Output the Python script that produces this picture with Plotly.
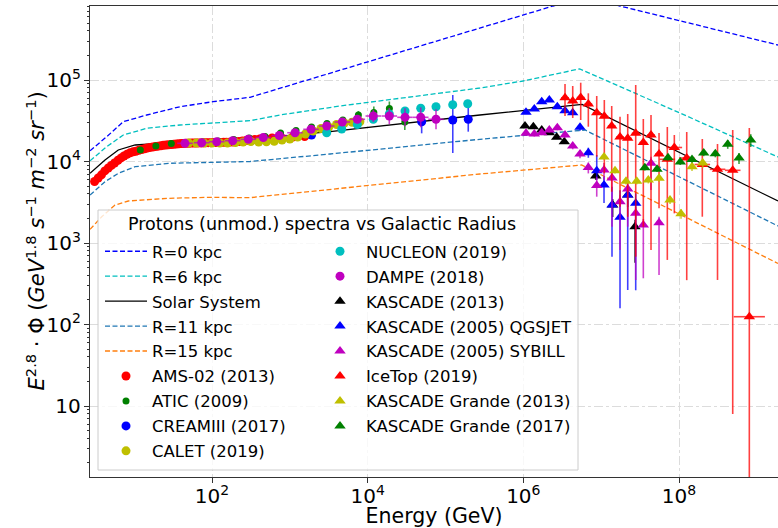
import numpy as np
import plotly.graph_objects as go

# ---------------- model curves (E in GeV, E^2.8 * flux) ----------------
r0_E = [2.71, 4.44, 7.25, 14.5, 38.8, 103, 308, 748, 2004, 4413, 2.41e6, 6.39e6, 1.75e7, 1.87e9]
r0_F = [13570, 20150, 30790, 37210, 47030, 54160, 61340, 79110, 104900, 130100, 809000, 1.043e6, 809000, 268800]

r6_E = [2.71, 4.44, 7.25, 14.5, 38.8, 103, 308, 748, 2004, 4413, 2.77e5, 9.9e5, 5.3e6, 1.03e8, 1.87e9]
r6_F = [10230, 15190, 21150, 25550, 28050, 29420, 31670, 37210, 42840, 47970, 79770, 97200, 137000, 39380, 11360]

sol_E = [2.71, 4.22, 6.25, 10.3, 16.8, 103, 308, 3283, 2.77e5, 5.68e6, 1.87e9]
sol_F = [7165, 10430, 13840, 15940, 16400, 17110, 18890, 23210, 37210, 50330, 3276]

r11_E = [2.71, 4.22, 6.25, 10.3, 27.5, 103, 308, 3283, 2.77e5, 6.2e6, 1.87e9]
r11_F = [3882, 5651, 7165, 8636, 9504, 9721, 10000, 12360, 18730, 24350, 1617]

r15_E = [2.71, 3.83, 5.67, 8.41, 27.5, 89.6, 308, 3283, 2.77e5, 5.6e6, 8.19e8, 1.87e9]
r15_F = [1470, 2102, 2927, 3276, 3535, 3636, 3600, 4559, 7025, 9060, 820.5, 560.6]

# ---------------- data sets ----------------
ams_E = [3.1, 3.45, 3.8, 4.2, 4.65, 5.1, 5.6, 6.2, 6.8, 7.4, 8.1, 8.9, 9.7, 10.5, 11.5, 12.5,
         13.6, 14.7, 16, 17.3, 18.7, 20.3, 22, 23.7, 25.7, 27.7, 30, 32.3, 34.8, 37.5, 40.4,
         43.5, 46.8, 50.3, 54.1, 58.2, 62.5, 67.2, 72.3, 77.7, 83.5, 89.7, 96.5, 104, 112, 120,
         130, 141, 153, 167, 183, 201, 222, 246, 275, 310, 354, 410, 483, 592, 770, 1090, 1550]
ams_F = [5680, 6280, 6860, 7660, 8330, 8960, 9600, 10370, 11060, 11690, 12260, 12800, 13140,
         13360, 13740, 14020, 14300, 14620, 14890, 15070, 15240, 15420, 15610, 15780, 15940,
         16040, 16180, 16300, 16400, 16500, 16580, 16680, 16720, 16770, 16820, 16870, 16870,
         16920, 16920, 16970, 16970, 17020, 17020, 17070, 17070, 17120, 17120, 17170, 17210,
         17260, 17350, 17450, 17620, 17850, 18110, 18360, 18620, 18880, 19160, 19430, 19710,
         19980, 20270]

atic_E = [12, 19, 30, 48, 76, 120, 190, 300, 480, 760, 1200, 1900, 3000, 4800, 7600, 12000, 19000, 30000]
atic_F = [13840, 15500, 16630, 17110, 17350, 17850, 18620, 19430, 20270, 22370, 24010, 26500,
          29260, 32300, 37210, 39930, 44710, 30530]
atic_ep = [300, 300, 300, 300, 300, 400, 400, 500, 600, 700, 800, 1000, 1300, 1800, 4470, 7390, 9790, 6690]
atic_em = [300, 300, 300, 300, 300, 400, 400, 500, 600, 700, 800, 1000, 1300, 1700, 3980, 6230, 8050, 6170]

cream_E = [1900, 49400, 124000, 196000]
cream_F = [21150, 30790, 32300, 32950]
cream_ep = [800, 6400, 33100, 15980]
cream_em = [800, 8620, 19580, 9720]

calet_E = [50, 63, 79, 100, 126, 158, 200, 251, 316, 398, 501, 631, 794, 1000, 1259, 1585,
           1995, 2512, 3162, 3981, 5012, 6310, 7943]
calet_F = [16870, 16870, 16870, 16870, 16870, 16870, 17110, 17350, 17600, 17350, 17500, 17750,
           18360, 18890, 19980, 21750, 23670, 25410, 26500, 28440, 29680, 30270, 30790]

nucleon_E = [2977, 4640, 7362, 11820, 18970, 30180, 48040, 75520, 123800, 192900]
nucleon_F = [22560, 25050, 28440, 32950, 38250, 41650, 44960, 47030, 49770, 51200]
nucleon_err = [900, 1100, 1300, 1600, 2000, 2400, 2900, 3300, 3800, 4300]

dampe_E = [45, 73.7, 115, 184.5, 292.7, 456, 732, 1165, 1871, 2977, 4723, 7362, 11820, 18970,
           30180, 48040, 75520]
dampe_F = [16720, 17010, 17500, 18000, 18730, 19700, 20840, 22560, 24840, 27270, 30530, 32950,
           36160, 36160, 34850, 34850, 32950]
dampe_ep = [300, 300, 300, 300, 400, 400, 500, 600, 700, 900, 1500, 3950, 6690, 9190, 10100, 11360, 10740]
dampe_em = [300, 300, 300, 300, 400, 400, 500, 600, 700, 900, 1400, 3530, 5650, 7300, 7840, 8570, 8100]
dampe_half_dex = 0.1

k13_E = [1.051e6, 1.344e6, 1.723e6, 2.157e6, 2.685e6, 3.362e6, 8.51e6, 1.407e7, 2.194e7, 2.722e7]
k13_F = [27270, 26730, 24350, 22560, 19820, 17500, 6640, 2927, 3882, 1585]
k13_ep = [1000, 1000, 1000, 1000, 900, 900, 800, 541, 590, 347]
k13_em = [1000, 1000, 1000, 1000, 900, 900, 700, 843, 1120, 1013]

kq_E = [1.082e6, 1.384e6, 1.723e6, 2.157e6, 2.733e6, 3.432e6, 4.311e6, 5.35e6, 6.84e6, 8.77e6,
        1.088e7, 1.378e7, 1.747e7, 2.194e7, 2.779e7]
kq_F = [40160, 44090, 54160, 56830, 47030, 42010, 39710, 26280, 12820, 7713, 5149, 2927, 2067, 3882, 3070]
kq_ep = [1500, 1600, 2000, 2200, 2000, 2000, 2000, 2500, 1950, 4304, 1360, 1981, 2367, 590, 1004]
kq_em = [1500, 1600, 2000, 2200, 2000, 2000, 2000, 2500, 1700, 1781, 2054, 2248, 1909, 3617, 2807]

ks_E = [1.082e6, 1.384e6, 1.723e6, 2.157e6, 2.733e6, 3.432e6, 4.311e6, 5.35e6, 6.84e6, 8.77e6,
        1.088e7, 1.378e7, 1.747e7, 2.194e7, 2.779e7, 3.48e7, 4.37e7, 5.54e7]
ks_F = [22180, 21750, 22560, 24350, 25980, 21150, 15500, 12360, 8443, 5077, 7866, 6273, 3212,
        4598, 2314, 1663, 9504, 1774]
ks_ep = [1500, 1500, 1500, 1600, 1800, 1600, 1400, 1400, 1300, 1432, 1723, 1593, 668, 851, 451, 308, 1948, 328]
ks_em = [1500, 1500, 1500, 1600, 1800, 1600, 1400, 1400, 1300, 1376, 1935, 4688, 2392, 3013, 1962, 1294, 5035, 1370]

ice_E = [3.432e6, 4.311e6, 5.46e6, 6.84e6, 8.77e6, 1.098e7, 1.366e7, 1.747e7, 2.194e7, 2.779e7,
         3.48e7, 4.37e7, 5.54e7, 7.08e7, 8.71e7, 1.257e8, 1.993e8, 3.125e8, 4.9e8, 8.01e8]
ice_F = [60480, 55240, 61000, 50760, 39710, 35850, 27270, 19980, 19260, 22180, 17110, 21150,
         12360, 10640, 14850, 11040, 9188, 8024, 7798, 124.6]
ice_ep = [28830, 29160, 31660, 17920, 23930, 20980, 20700, 15470, 18990, 64660, 16110, 16060,
          10010, 15860, 6300, 11970, 9702, 8376, 16550, 25640]
ice_em = [24320, 21060, 28700, 24030, 28250, 28690, 23010, 17190, 17160, 21500, 15530, 20330,
          9694, 10020, 12540, 10690, 7086, 7672, 7790, 124.5]
ice_half_dex = [0.05, 0.05, 0.05, 0.05, 0.05, 0.05, 0.05, 0.05, 0.05, 0.05, 0.05, 0.05, 0.05,
                0.1, 0.1, 0.1, 0.1, 0.1, 0.1, 0.2]

kg13_E = [1.088e7, 1.507e7, 2.086e7, 2.863e7, 4.035e7, 5.54e7, 7.67e7, 1.062e8, 1.47e8, 2.017e8]
kg13_F = [11360, 7713, 5733, 5733, 5929, 6221, 3370, 2288, 8636, 9585]
kg13_err = [800, 600, 500, 500, 550, 600, 350, 300, 1000, 1200]

kg17_E = [3.64e7, 5.22e7, 7.23e7, 1.04e8, 1.47e8, 2.078e8, 2.928e8, 4.227e8, 5.905e8, 8.35e8]
kg17_F = [8371, 8024, 11100, 9860, 10580, 12720, 12460, 16310, 11040, 18360]
kg17_err = [600, 600, 800, 800, 900, 1100, 1200, 2000, 1700, 3300]

FONT = "DejaVu Sans"
fig = go.Figure()

dash = "5px,2.5px"
curves = [
    ("R=0 kpc", r0_E, r0_F, "#0000ff", dash),
    ("R=6 kpc", r6_E, r6_F, "#00bfbf", dash),
    ("Solar System", sol_E, sol_F, "#000000", "solid"),
    ("R=11 kpc", r11_E, r11_F, "#1f77b4", dash),
    ("R=15 kpc", r15_E, r15_F, "#ff7f0e", dash),
]
rank = 0
for name, xs, ys, col, d in curves:
    rank += 1
    fig.add_trace(go.Scatter(x=xs, y=ys, mode="lines", name=name,
                             line=dict(color=col, width=1.3, dash=d),
                             legend="legend", legendrank=rank, legendgroup=name))


def rgba(hexc, a):
    h = hexc.lstrip("#")
    return "rgba(%d,%d,%d,%.2f)" % (int(h[0:2], 16), int(h[2:4], 16), int(h[4:6], 16), a)


def add_data(name, xs, ys, col, symbol, size, legend, rank, ep=None, em=None, xhalf=None):
    kw = {}
    if ep is not None:
        kw["error_y"] = dict(type="data", array=ep, arrayminus=em if em is not None else ep,
                             color=rgba(col, 0.75), thickness=1.6, width=0, visible=True)
    if xhalf is not None:
        xa = np.array(xs, dtype=float)
        hd = np.array(xhalf, dtype=float)
        kw["error_x"] = dict(type="data", array=list(xa * (10 ** hd - 1)),
                             arrayminus=list(xa * (1 - 10 ** (-hd))),
                             color=rgba(col, 0.75), thickness=1.6, width=0, visible=True)
    fig.add_trace(go.Scatter(x=xs, y=ys, mode="markers", name=name,
                             marker=dict(color=col, symbol=symbol, size=size, line=dict(width=0)),
                             legend=legend, legendrank=rank, legendgroup=name, **kw))


add_data("AMS-02 (2013)", ams_E, ams_F, "#ff0000", "circle", 9, "legend", 6)
add_data("ATIC (2009)", atic_E, atic_F, "#008000", "circle", 7, "legend", 7, atic_ep, atic_em)
add_data("CREAMIII (2017)", cream_E, cream_F, "#0000ff", "circle", 9, "legend", 8, cream_ep, cream_em)
add_data("CALET (2019)", calet_E, calet_F, "#bfbf00", "circle", 9, "legend", 9)
add_data("NUCLEON (2019)", nucleon_E, nucleon_F, "#00bfbf", "circle", 9, "legend2", 10, nucleon_err)
add_data("DAMPE (2018)", dampe_E, dampe_F, "#bf00bf", "circle", 9, "legend2", 11, dampe_ep, dampe_em,
         [dampe_half_dex] * len(dampe_E))
add_data("KASCADE (2013)", k13_E, k13_F, "#000000", "triangle-up", 10, "legend2", 12, k13_ep, k13_em)
add_data("KASCADE (2005) QGSJET", kq_E, kq_F, "#0000ff", "triangle-up", 10, "legend2", 13, kq_ep, kq_em)
add_data("KASCADE (2005) SYBILL", ks_E, ks_F, "#bf00bf", "triangle-up", 10, "legend2", 14, ks_ep, ks_em)
add_data("IceTop (2019)", ice_E, ice_F, "#ff0000", "triangle-up", 10, "legend2", 15, ice_ep, ice_em, ice_half_dex)
add_data("KASCADE Grande (2013)", kg13_E, kg13_F, "#bfbf00", "triangle-up", 10, "legend2", 16, kg13_err)
add_data("KASCADE Grande (2017)", kg17_E, kg17_F, "#008000", "triangle-up", 10, "legend2", 17, kg17_err)

W, H = 778, 528
ML, MR, MT, MB = 90, 0, 6, 51
pw, ph = W - ML - MR, H - MT - MB


def px(x):
    return (x - ML) / pw


def py(y):
    return (H - MB - y) / ph


leg_common = dict(bgcolor="rgba(0,0,0,0)", borderwidth=0, font=dict(family=FONT, size=16.5, color="black"),
                  xanchor="left", yanchor="top", orientation="v", itemsizing="trace",
                  tracegroupgap=0.5, itemwidth=42)

ytitle = ("<i>E</i><sup>2.8</sup> · Φ (<i>GeV</i><sup>1.8</sup> <i>s</i><sup>−1</sup> "
          "<i>m</i><sup>−2</sup> <i>sr</i><sup>−1</sup>)")

fig.update_layout(
    width=W, height=H,
    margin=dict(l=ML, r=MR, t=MT, b=MB, pad=0),
    paper_bgcolor="white", plot_bgcolor="white",
    font=dict(family=FONT, color="black"),
    showlegend=True,
    legend=dict(x=px(100), y=py(234), **leg_common),
    legend2=dict(x=px(314), y=py(234), **leg_common),
    xaxis=dict(type="log", range=[0.4325, 9.272], dtick=2, exponentformat="power",
               showline=True, linecolor="#333", linewidth=1, mirror=True,
               ticks="outside", ticklen=5, tickcolor="#333", ticklabelstandoff=-3,
               showgrid=True, gridcolor="#dcdcdc", griddash="dashdot", gridwidth=1,
               tickfont=dict(family=FONT, size=16),
               title=dict(text="Energy (GeV)", font=dict(family=FONT, size=20.5), standoff=0),
               zeroline=False),
    yaxis=dict(type="log", range=[0.129, 5.908], dtick=1, exponentformat="power",
               showline=True, linecolor="#333", linewidth=1, mirror=False,
               ticks="outside", ticklen=5, tickcolor="#333",
               minor=dict(ticks="outside", ticklen=2.5, tickcolor="#333", showgrid=False),
               showgrid=True, gridcolor="#dcdcdc", griddash="dashdot", gridwidth=1,
               tickfont=dict(family=FONT, size=16),
               zeroline=False),
    shapes=[dict(type="rect", xref="paper", yref="paper", layer="above",
                 x0=px(98), x1=px(578), y0=py(470), y1=py(210),
                 fillcolor="rgba(255,255,255,0.8)", line=dict(color="#cccccc", width=1))],
    annotations=[
        dict(text="Protons (unmod.) spectra vs Galactic Radius", xref="paper", yref="paper",
             x=px(321.5), y=py(224), xanchor="center", yanchor="middle", showarrow=False,
             font=dict(family=FONT, size=17.5, color="black")),
        dict(text=ytitle, xref="paper", yref="paper", x=px(35), y=py(241.5),
             xanchor="center", yanchor="middle", textangle=-90, showarrow=False,
             font=dict(family=FONT, size=21, color="black")),
    ],
)

fig.write_html("out.html", config={"displayModeBar": False})
